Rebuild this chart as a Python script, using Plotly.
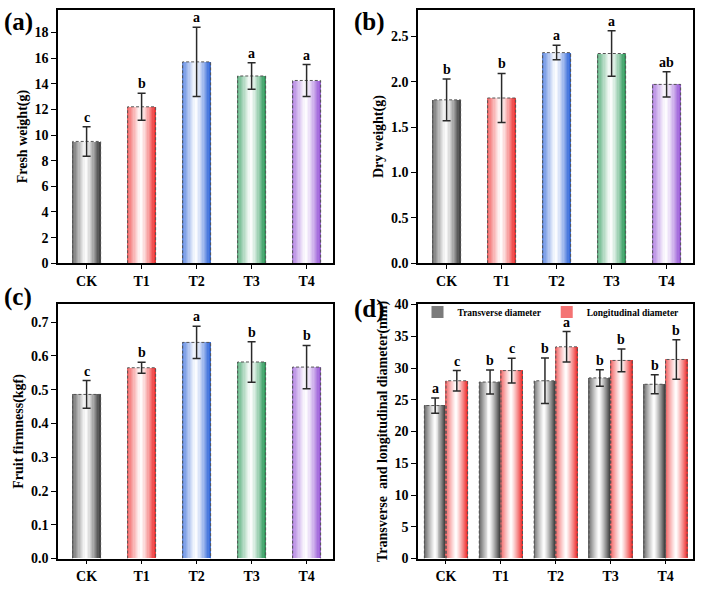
import plotly.graph_objects as go

groups = ["CK", "T1", "T2", "T3", "T4"]

fresh = [9.5, 12.2, 15.7, 14.6, 14.25]
fresh_err = [1.15, 1.05, 2.7, 1.03, 1.24]
fresh_sig = ["c", "b", "a", "a", "a"]

dry = [1.80, 1.82, 2.32, 2.31, 1.97]
dry_err = [0.23, 0.27, 0.08, 0.25, 0.14]
dry_sig = ["b", "b", "a", "a", "ab"]

firm = [0.486, 0.565, 0.640, 0.582, 0.567]
firm_err = [0.041, 0.016, 0.048, 0.060, 0.064]
firm_sig = ["c", "b", "a", "b", "b"]

trans = [24.1, 27.8, 28.0, 28.45, 27.45]
trans_err = [1.2, 1.9, 3.6, 1.3, 1.5]
trans_sig = ["a", "b", "b", "b", "b"]

longi = [28.0, 29.6, 33.35, 31.2, 31.35]
longi_err = [1.6, 1.95, 2.4, 1.8, 3.1]
longi_sig = ["c", "c", "a", "b", "b"]

group_colors = ["#3a3a3a", "#ee2f2f", "#2a62d8", "#2a9858", "#9656d6"]
trans_color = "#3a3a3a"
longi_color = "#ee2f2f"

FONT = "Liberation Serif"
N = 22
pos = list(range(len(groups)))


def hex2rgb(h):
    h = h.lstrip("#")
    return tuple(int(h[i:i + 2], 16) for i in (0, 2, 4))


def grad(base, t):
    r, g, b = hex2rgb(base)
    c = 0.5
    if t < c:
        f = 0.8 * ((c - t) / c) ** 1.2
    else:
        f = ((t - c) / (1 - c)) ** 1.2
    mix = lambda v: int(round(255 + (v - 255) * f))
    return "rgb(%d,%d,%d)" % (mix(r), mix(g), mix(b))


fig = go.Figure()


def add_bars(xa, ya, centers, vals, errs, sigs, colors, width, legend_name=None):
    step = width / N
    for i in range(N):
        t = (i + 0.5) / N
        xs = [c - width / 2 + (i + 0.5) * step for c in centers]
        fig.add_trace(go.Bar(
            x=xs, y=vals, width=step * 1.25,
            marker=dict(color=[grad(col, t) for col in colors], line=dict(width=0)),
            xaxis=xa, yaxis=ya, hoverinfo="skip",
            showlegend=(legend_name is not None and i == 1),
            name=legend_name or "",
        ))
    # dashed outlines
    ox, oy = [], []
    for c, v in zip(centers, vals):
        ox += [c - width / 2, c - width / 2, c + width / 2, c + width / 2, None]
        oy += [0, v, v, 0, None]
    fig.add_trace(go.Scatter(x=ox, y=oy, mode="lines",
                             line=dict(color="#555555", width=1, dash="3px,2px"),
                             xaxis=xa, yaxis=ya, showlegend=False, hoverinfo="skip"))
    # error bars
    fig.add_trace(go.Scatter(x=centers, y=vals, mode="markers",
                             marker=dict(size=1, opacity=0),
                             error_y=dict(type="data", array=errs, visible=True,
                                          color="#2a2a2a", thickness=1.5, width=4),
                             xaxis=xa, yaxis=ya, showlegend=False, hoverinfo="skip"))
    for c, v, e, s in zip(centers, vals, errs, sigs):
        fig.add_annotation(x=c, y=v + e, xref=xa, yref=ya, text=s,
                           showarrow=False, yanchor="bottom", yshift=0,
                           font=dict(family=FONT, size=14, color="black", weight="bold"))


add_bars("x", "y", pos, fresh, fresh_err, fresh_sig, group_colors, 0.51)
add_bars("x2", "y2", pos, dry, dry_err, dry_sig, group_colors, 0.51)
add_bars("x3", "y3", pos, firm, firm_err, firm_sig, group_colors, 0.51)
bw = 0.394
add_bars("x4", "y4", [p - bw / 2 for p in pos], trans, trans_err, trans_sig,
         [trans_color] * 5, bw, legend_name="Transverse diameter")
add_bars("x4", "y4", [p + bw / 2 for p in pos], longi, longi_err, longi_sig,
         [longi_color] * 5, bw, legend_name="Longitudinal diameter")

W, H = 709, 589
xd_left = [58 / W, 333 / W]
xd_right = [418 / W, 693 / W]
yd_top = [1 - 263 / H, 1 - 3 / H]
yd_bot = [1 - 566 / H, 1 - 305 / H]

tickfont = dict(family=FONT, size=14, color="black", weight="bold")


def xaxis(domain, anchor, rng):
    return dict(domain=domain, anchor=anchor, range=rng, tickmode="array",
                tickvals=pos, ticktext=groups,
                ticks="outside", ticklen=4, tickwidth=1.3, tickcolor="black",
                showline=True, linecolor="black", linewidth=1.5, mirror=True,
                showgrid=False, zeroline=False, tickfont=tickfont)


def yaxis(domain, anchor, rng, dtick, fmt, title, tsize):
    return dict(domain=domain, anchor=anchor, range=rng, dtick=dtick, tick0=0,
                tickformat=fmt, ticks="outside", ticklen=5, tickwidth=1.3,
                tickcolor="black", showline=True, linecolor="black", linewidth=1.5,
                mirror=True, showgrid=False, zeroline=False,
                tickfont=tickfont,
                title=dict(text=title, standoff=4,
                           font=dict(family=FONT, size=tsize, color="black", weight="bold")))


fig.update_layout(
    width=W, height=H, margin=dict(l=0, r=0, t=0, b=0),
    paper_bgcolor="white", plot_bgcolor="white",
    barmode="overlay", bargap=0,
    xaxis=xaxis(xd_left, "y", [-0.52, 4.48]),
    yaxis=yaxis(yd_top, "x", [0, 19.75], 2, "d", "Fresh weight(g)", 14),
    xaxis2=xaxis(xd_right, "y2", [-0.52, 4.48]),
    yaxis2=yaxis(yd_top, "x2", [0, 2.79], 0.5, ".1f", "Dry weight(g)", 14),
    xaxis3=xaxis(xd_left, "y3", [-0.52, 4.48]),
    yaxis3=yaxis(yd_bot, "x3", [0, 0.753], 0.1, ".1f", "Fruit firmness(kgf)", 14),
    xaxis4=xaxis(xd_right, "y4", [-0.51, 4.5]),
    yaxis4=yaxis(yd_bot, "x4", [0, 40.05], 5, "d", "Transverse  and longitudinal diameter(mm)", 14),
    legend=dict(orientation="h", x=551 / W, xanchor="center", y=1 - 313 / H,
                yanchor="middle", bgcolor="rgba(0,0,0,0)",
                font=dict(family=FONT, size=9.5, color="black", weight="bold"),
                itemwidth=30, tracegroupgap=0),
)

for lab, x, y in [("(a)", 2, 15), ("(b)", 352, 15), ("(c)", 2, 298), ("(d)", 352, 310)]:
    fig.add_annotation(text=lab, xref="paper", yref="paper",
                       x=x / W, y=1 - y / H, xanchor="left", yanchor="middle",
                       showarrow=False,
                       font=dict(family=FONT, size=25, color="black", weight="bold"))

fig.write_html("out.html")
